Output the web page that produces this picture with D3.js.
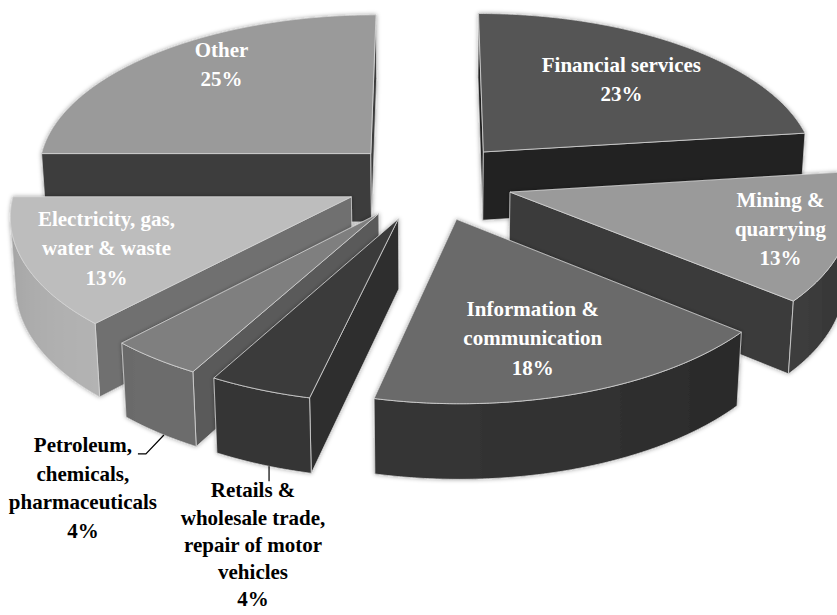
<!DOCTYPE html>
<html><head><meta charset="utf-8">
<script src="https://cdn.jsdelivr.net/npm/d3@7"></script>
<style>body{margin:0;background:#fff}svg{display:block}</style>
</head><body><svg id="c" width="837" height="615"></svg>
<script>
// ---- data ----
const categories = ["Financial services","Mining & quarrying","Information & communication","Retails & wholesale trade, repair of motor vehicles","Petroleum, chemicals, pharmaceuticals","Electricity, gas, water & waste","Other"];
const values = [23, 13, 17.6, 4.4, 4, 13, 25];
const labelLines = [["Financial services"],["Mining &","quarrying"],["Information &","communication"],["Retails &","wholesale trade,","repair of motor","vehicles"],["Petroleum,","chemicals,","pharmaceuticals"],["Electricity, gas,","water & waste"],["Other"]];
const topColors  = ["#555555","#9a9a9a","#6a6a6a","#3b3b3b","#7f7f7f","#bdbdbd","#9a9a9a"];
const sideColors = ["#2a2a2a","#505050","#363636","#363636","#6c6c6c","#b4b4b4","#444444"];
const wallColors = ["#222222","#3b3b3b","#2e2e2e","#2e2e2e","#5a5a5a","#6f6f6f","#3d3d3d"];
// label layout: inside [angle shift deg, radius] or outside
const labelInside = [[0.6,0.67],[0,0.81],[2,0.70],null,null,[-0.7,0.76],[6.5,0.79]];

// ---- projection (perspective view of a tilted pie) ----
const P = {F:2955, D:8.82, tilt:28.1*Math.PI/180, cx:429, cy:181};
const sn = Math.sin(P.tilt), cs = Math.cos(P.tilt);
function proj(u,v,w){ const z = P.D + v*cs - w*sn; return [P.cx + P.F*u/z, P.cy - P.F*(v*sn + w*cs)/z]; }
const H = 0.237, E = 0.25;
const camU = 0, camV = -P.D*cs;

const svg = d3.select("#c");
const defs = svg.append("defs");
defs.append("filter").attr("id","sh").attr("x","-20%").attr("y","-20%").attr("width","140%").attr("height","140%")
  .append("feDropShadow").attr("dx",0).attr("dy",0).attr("stdDeviation",2).attr("flood-color","#000").attr("flood-opacity",0.35);

const arcs = d3.pie().sort(null).value(d=>d).startAngle(0).endAngle(2*Math.PI)(values);
const line = d3.line();
const rad = Math.PI/180;
function shade(base, a){ const f = 0.72 + 0.28*Math.cos(a - 210*rad); const c = d3.rgb(base); return d3.rgb(c.r*f, c.g*f, c.b*f).formatHex(); }

const slices = arcs.map((d,i)=>{
  const mid=(d.startAngle+d.endAngle)/2;
  const ou=E*Math.sin(mid), ov=E*Math.cos(mid);
  const pt=(a,r,w)=>proj(ou+r*Math.sin(a), ov+r*Math.cos(a), w);
  const du=ou+0.5*Math.sin(mid)-camU, dv=ov+0.5*Math.cos(mid)-camV;
  return {d,i,mid,ou,ov,pt,dist:du*du+dv*dv};
}).sort((a,b)=>b.dist-a.dist);

const stroke = "#d4d4d4", sw = 0.8;
let gid = 0;
const gAll = svg.append("g");
slices.forEach(s=>{
  const {d,i,ou,ov,pt} = s, a1=d.startAngle, a2=d.endAngle;
  const g = gAll.append("g").attr("filter","url(#sh)");
  const apexT = proj(ou,ov,0), apexB = proj(ou,ov,-H);
  // radial walls
  [[a1,-Math.cos(a1),Math.sin(a1)],[a2,Math.cos(a2),-Math.sin(a2)]].forEach(([a,nu,nv])=>{
    if(nu*(camU-ou) + nv*(camV-ov) <= 0) return;
    g.append("path").attr("d", line([apexT, pt(a,1,0), pt(a,1,-H), apexB])+"Z")
      .attr("fill", wallColors[i]).attr("stroke",stroke).attr("stroke-width",sw).attr("stroke-linejoin","round");
  });
  // curved outer side
  const n = Math.max(2, Math.ceil((a2-a1)/(0.5*rad)));
  const angs = d3.range(n+1).map(k=>a1+(a2-a1)*k/n);
  const vis = a => Math.sin(a)*(camU-ou-Math.sin(a)) + Math.cos(a)*(camV-ov-Math.cos(a)) > 0;
  const runs=[]; let cur=null;
  angs.forEach(a=>{ if(vis(a)){ if(!cur){cur=[];runs.push(cur);} cur.push(a);} else cur=null; });
  runs.filter(r=>r.length>1).forEach(run=>{
    const top = run.map(a=>pt(a,1,0)), bot = run.map(a=>pt(a,1,-H)).reverse();
    const xs = top.map(p=>p[0]); const x0=d3.min(xs), x1=d3.max(xs);
    const id = "gr"+(gid++);
    const lg = defs.append("linearGradient").attr("id",id).attr("gradientUnits","userSpaceOnUse")
      .attr("x1",x0).attr("x2",x1).attr("y1",0).attr("y2",0);
    const stops = run.map((a,k)=>({o:(xs[k]-x0)/Math.max(1e-6,x1-x0), c:shade(sideColors[i],a)})).sort((p,q)=>p.o-q.o);
    stops.forEach(st=>lg.append("stop").attr("offset",st.o).attr("stop-color",st.c));
    g.append("path").attr("d", line(top.concat(bot))+"Z")
      .attr("fill","url(#"+id+")").attr("stroke",stroke).attr("stroke-width",sw).attr("stroke-linejoin","round");
  });
  // top face
  const tn = Math.max(2, Math.ceil((a2-a1)/(0.5*rad)));
  const arcPts = d3.range(tn+1).map(k=>pt(a1+(a2-a1)*k/tn,1,0));
  g.append("path").attr("d", line([apexT].concat(arcPts))+"Z")
    .attr("fill", topColors[i]).attr("stroke",stroke).attr("stroke-width",sw).attr("stroke-linejoin","round");
});

// ---- labels ----
const font = "'Liberation Serif','Times New Roman',serif";
const LH = 29.2, FS = 21;
const gl = svg.append("g").attr("font-family",font).attr("font-size",FS).attr("font-weight","bold").attr("text-anchor","middle");
arcs.forEach((d,i)=>{
  const mid=(d.startAngle+d.endAngle)/2;
  const ou=E*Math.sin(mid), ov=E*Math.cos(mid);
  const lines = labelLines[i].concat([Math.round(values[i])+"%"]);
  if(labelInside[i]){
    const a = mid + labelInside[i][0]*rad, r = labelInside[i][1];
    const [x,y] = proj(ou+r*Math.sin(a), ov+r*Math.cos(a), 0);
    const t = gl.append("text").attr("fill","#fff");
    lines.forEach((ln,k)=>t.append("tspan").attr("x",x).attr("y", y + 7 + (k-(lines.length-1)/2)*LH).text(ln));
  } else {
    const a = d.startAngle + 0.43*(d.endAngle-d.startAngle);
    const S = proj(ou+Math.sin(a), ov+Math.cos(a), -H);
    let pts, tx, ty, lh;
    if(i===4){ pts=[S,[S[0]-18,S[1]+19],[S[0]-26,S[1]+19]]; tx=S[0]-81; ty=S[1]+17; lh=28.6; }
    else { pts=[S,[S[0],S[1]+15]]; tx=S[0]-16; ty=S[1]+31; lh=27.2; }
    gl.append("path").attr("d",line(pts)).attr("fill","none").attr("stroke","#000").attr("stroke-width",1.2);
    const t = gl.append("text").attr("fill","#000");
    lines.forEach((ln,k)=>t.append("tspan").attr("x",tx).attr("y", ty + k*lh).text(ln));
  }
});
</script></body></html>
